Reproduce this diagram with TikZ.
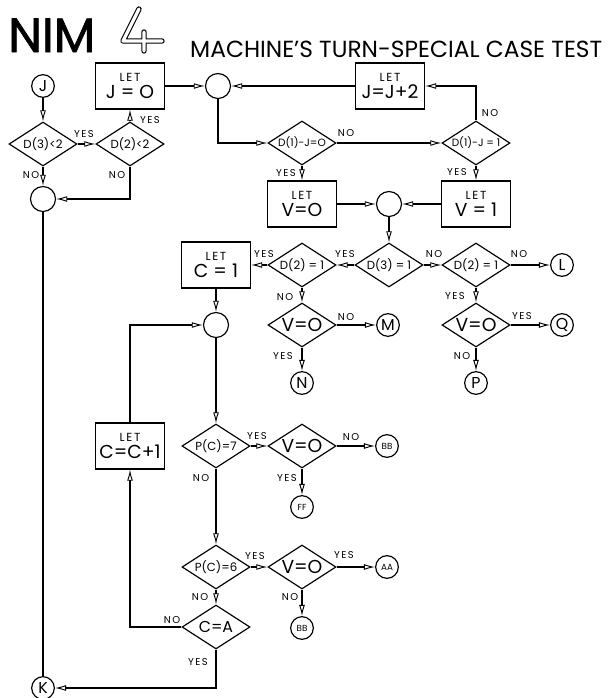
\documentclass[tikz,border=0pt]{standalone}
\usepackage{fontspec}
\setmainfont{Poppins}
\newfontfamily\spacedfont[LetterSpace=14]{Poppins}
\newfontfamily\titlefont[FakeBold=1.5]{Poppins}
\usetikzlibrary{shapes.geometric,arrows.meta}
\newcommand\letbox[1]{\vbox{\baselineskip=0pt\lineskip=3pt\lineskiplimit=0pt\halign{\hfil##\hfil\cr\spacedfont\fontsize{10}{10}\selectfont LET\cr\fontsize{16}{16}\selectfont #1\cr}}}
\begin{document}
\begin{tikzpicture}[x=0.03cm,y=-0.03cm,
  every node/.style={inner sep=0pt},
  flow/.style={line width=1pt},
  arr/.style={line width=1pt,-{Latex[open,length=9.5pt,width=5pt,line width=0.8pt]}},
  box/.style={draw,line width=1pt,minimum width=2.07cm,minimum height=1.38cm},
  dec/.style={draw,diamond,line width=1pt,minimum width=2.04cm,minimum height=1.32cm,aspect=1.55},
  junc/.style={draw,circle,line width=1pt,minimum size=0.75cm},
  conn/.style={draw,circle,line width=1pt,minimum size=0.68cm},
  lbl/.style={font=\spacedfont\fontsize{8.5}{8.5}\selectfont},
  dtxt/.style={font=\fontsize{10}{10}\selectfont},
  btxt/.style={font=\fontsize{16}{16}\selectfont},
  ctxt/.style={font=\fontsize{13.5}{13.5}\selectfont},
  stxt/.style={font=\fontsize{7.5}{7.5}\selectfont},
]
\useasboundingbox[fill=white] (0,0) rectangle (610,698);
% titles
\node[anchor=base west] (title) at (8,52) {\resizebox{2.61cm}{!}{\titlefont\fontsize{40}{40}\selectfont NIM}};
\coordinate (f1) at (139,9);
\coordinate (f2) at (123,41);
\coordinate (f3) at (162,41);
\coordinate (f4) at (144,32);
\coordinate (f5) at (144,51);
\draw[double=white,double distance=2.8pt,line width=0.9pt,line cap=round,line join=round] (f1) -- (f2) -- (f3) (f4) -- (f5);
\node[anchor=base west] (sub) at (190,57) {\resizebox{12.36cm}{!}{\fontsize{16}{16}\selectfont MACHINE'S TURN-SPECIAL CASE TEST}};
% nodes
\node[conn,ctxt] (J) at (43,86) {J};
\node[dec,dtxt] (d3) at (43,144) {D(3)<2};
\node[dec,dtxt] (d2) at (130,144) {D(2)<2};
\node[box] (j0) at (130,86) {\letbox{J = O}};
\node[junc] (jc) at (218,86) {};
\node[box] (jj) at (390,86) {\letbox{J=J+2}};
\node[dec,font=\fontsize{9}{9}\selectfont] (dj0) at (302,143) {D(1)-J=O};
\node[dec,font=\fontsize{9}{9}\selectfont] (dj1) at (476,143) {D(1)-J = 1};
\node[box] (v0) at (302,204) {\letbox{V=O}};
\node[box] (v1) at (476,204) {\letbox{V = 1}};
\node[junc] (vc) at (389,204) {};
\node[dec,dtxt] (d31) at (389,265) {D(3) = 1};
\node[dec,dtxt] (d21L) at (302,265) {D(2) = 1};
\node[box] (c1) at (216,265) {\letbox{C = 1}};
\node[dec,dtxt] (d21R) at (476,265) {D(2) = 1};
\node[conn,ctxt] (L) at (562,265) {L};
\node[dec,btxt] (vL) at (302,325) {V=O};
\node[conn,ctxt] (M) at (388,325) {M};
\node[conn,ctxt] (N) at (302,383) {N};
\node[dec,btxt] (vR) at (476,325) {V=O};
\node[conn,ctxt] (Q) at (562,325) {Q};
\node[conn,ctxt] (P) at (476,383) {P};
\node[junc] (cc) at (216,325) {};
\node[dec,dtxt] (pc7) at (216,446) {P(C)=7};
\node[box] (ccp) at (130,446) {\letbox{C=C+1}};
\node[dec,btxt] (v3) at (302,446) {V=O};
\node[conn,stxt] (BB1) at (387,446) {BB};
\node[conn,stxt] (FF) at (302,507) {FF};
\node[dec,dtxt] (pc6) at (216,567) {P(C)=6};
\node[dec,btxt] (v4) at (302,567) {V=O};
\node[conn,stxt] (AA) at (387,567) {AA};
\node[conn,stxt] (BB2) at (302,628) {BB};
\node[dec,ctxt] (ca) at (216,627) {C=A};
\node[conn,ctxt] (K) at (43,688) {K};
\node[junc] (mc) at (43,199) {};
% connectors
\draw[arr] (J) -- (d3);
\draw[arr] (d3) -- (d2);
\draw[arr] (d2) -- (j0);
\draw[arr] (d3) -- (mc);
\draw[arr] (d2.south) |- (mc.east);
\draw[flow] (mc) -- (K);
\draw[arr] (j0) -- (jc);
\draw[arr] (jj) -- (jc);
\draw[arr] (jc.south) |- (dj0.west);
\draw[arr] (dj0) -- (dj1);
\draw[arr] (dj1.north) |- (jj.east);
\draw[arr] (dj0) -- (v0);
\draw[arr] (dj1) -- (v1);
\draw[arr] (v0) -- (vc);
\draw[arr] (v1) -- (vc);
\draw[arr] (vc) -- (d31);
\draw[arr] (d31) -- (d21L);
\draw[arr] (d31) -- (d21R);
\draw[arr] (d21L) -- (c1);
\draw[arr] (d21R) -- (L);
\draw[arr] (d21L) -- (vL);
\draw[arr] (d21R) -- (vR);
\draw[arr] (vL) -- (M);
\draw[arr] (vL) -- (N);
\draw[arr] (vR) -- (Q);
\draw[arr] (vR) -- (P);
\draw[arr] (c1) -- (cc);
\draw[arr] (cc) -- (pc7);
\draw[arr] (pc7) -- (v3);
\draw[arr] (v3) -- (BB1);
\draw[arr] (v3) -- (FF);
\draw[arr] (pc7) -- (pc6);
\draw[arr] (pc6) -- (v4);
\draw[arr] (v4) -- (AA);
\draw[arr] (v4) -- (BB2);
\draw[arr] (pc6) -- (ca);
\draw[arr] (ca.west) -| (ccp.south);
\draw[arr] (ccp.north) |- (cc.west);
\draw[arr] (ca.south) |- (K.east);
% labels
\node[lbl] (l1) at (84,134) {YES};
\node[lbl] (l2) at (150,120) {YES};
\node[lbl] (l3) at (31,175) {NO};
\node[lbl] (l4) at (117,175) {NO};
\node[lbl] (l5) at (346,133) {NO};
\node[lbl] (l6) at (490,113) {NO};
\node[lbl] (l7) at (286,173) {YES};
\node[lbl] (l8) at (457,172) {YES};
\node[lbl] (l9) at (264,254) {YES};
\node[lbl] (l10) at (345,254) {YES};
\node[lbl] (l11) at (434,254) {NO};
\node[lbl] (l12) at (519,254) {NO};
\node[lbl] (l13) at (285,297) {NO};
\node[lbl] (l14) at (455,296) {YES};
\node[lbl] (l15) at (346,317) {NO};
\node[lbl] (l16) at (283,356) {YES};
\node[lbl] (l17) at (522,316) {YES};
\node[lbl] (l18) at (462,356) {NO};
\node[lbl] (l19) at (257,436) {YES};
\node[lbl] (l20) at (351,437) {NO};
\node[lbl] (l21) at (287,478) {YES};
\node[lbl] (l22) at (201,478) {NO};
\node[lbl] (l23) at (255,556) {YES};
\node[lbl] (l24) at (344,555) {YES};
\node[lbl] (l25) at (290,597) {NO};
\node[lbl] (l26) at (200,597) {NO};
\node[lbl] (l27) at (172,620) {NO};
\node[lbl] (l28) at (198,662) {YES};
\end{tikzpicture}
\end{document}
